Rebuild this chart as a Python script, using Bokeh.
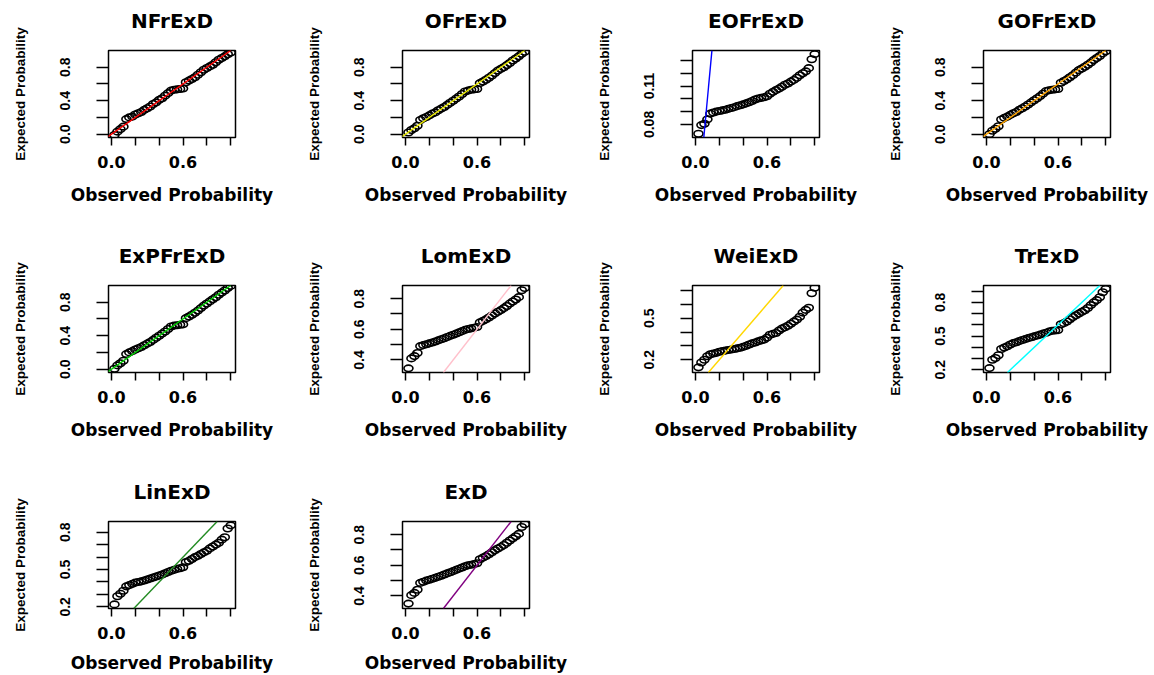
from bokeh.plotting import figure
from bokeh.models import Range1d, FixedTicker, Slope, ColumnDataSource, Title
from bokeh.layouts import column, row
from bokeh.embed import file_html
from bokeh.resources import INLINE

# ---------------- data ----------------
obs_prob = [0.025, 0.05, 0.075, 0.1, 0.125, 0.15, 0.175, 0.2, 0.225, 0.25,
            0.275, 0.3, 0.325, 0.35, 0.375, 0.4, 0.425, 0.45, 0.475, 0.5,
            0.525, 0.55, 0.575, 0.6, 0.625, 0.65, 0.675, 0.7, 0.725, 0.75,
            0.775, 0.8, 0.825, 0.85, 0.875, 0.9, 0.925, 0.95, 0.975, 1.0]

NFrExD = [-0.01, 0.03, 0.06, 0.09, 0.18, 0.20, 0.21, 0.235, 0.25, 0.265,
          0.29, 0.31, 0.33, 0.36, 0.38, 0.41, 0.43, 0.46, 0.49, 0.52,
          0.53, 0.535, 0.54, 0.545, 0.62, 0.64, 0.66, 0.68, 0.71, 0.74,
          0.77, 0.79, 0.81, 0.83, 0.86, 0.89, 0.91, 0.93, 0.955, 0.975]
OFrExD = [0.02, 0.05, 0.07, 0.10, 0.17, 0.19, 0.205, 0.225, 0.245, 0.26,
          0.285, 0.305, 0.325, 0.35, 0.375, 0.40, 0.425, 0.45, 0.48, 0.51,
          0.52, 0.53, 0.535, 0.54, 0.61, 0.63, 0.65, 0.675, 0.70, 0.73,
          0.76, 0.78, 0.80, 0.825, 0.85, 0.88, 0.905, 0.93, 0.96, 0.985]
EOFrExD = [0.0727, 0.0795, 0.0805, 0.0840, 0.0885, 0.0893, 0.0900, 0.0905, 0.0910, 0.0915,
           0.0922, 0.0928, 0.0935, 0.0943, 0.0950, 0.0957, 0.0965, 0.0973, 0.0983, 0.0995,
           0.1003, 0.1008, 0.1013, 0.1020, 0.1040, 0.1055, 0.1068, 0.1080, 0.1095, 0.1110,
           0.1120, 0.1135, 0.1148, 0.1165, 0.1185, 0.1200, 0.1215, 0.1240, 0.1310, 0.1350]
GOFrExD = [0.0, 0.04, 0.065, 0.095, 0.175, 0.195, 0.21, 0.23, 0.25, 0.265,
           0.29, 0.31, 0.33, 0.355, 0.38, 0.405, 0.43, 0.455, 0.485, 0.515,
           0.525, 0.53, 0.535, 0.54, 0.615, 0.635, 0.655, 0.68, 0.705, 0.735,
           0.765, 0.785, 0.805, 0.83, 0.855, 0.885, 0.91, 0.935, 0.965, 0.99]
ExPFrExD = [0.005, 0.045, 0.07, 0.10, 0.18, 0.2, 0.215, 0.235, 0.25, 0.265,
            0.285, 0.305, 0.325, 0.35, 0.375, 0.40, 0.425, 0.45, 0.48, 0.51,
            0.52, 0.525, 0.53, 0.535, 0.61, 0.63, 0.65, 0.675, 0.70, 0.73,
            0.76, 0.785, 0.81, 0.835, 0.86, 0.89, 0.915, 0.94, 0.97, 0.995]
LomExD = [0.345, 0.41, 0.425, 0.445, 0.49, 0.497, 0.502, 0.508, 0.514, 0.52,
          0.528, 0.535, 0.542, 0.55, 0.557, 0.564, 0.572, 0.58, 0.588, 0.596,
          0.602, 0.606, 0.61, 0.615, 0.645, 0.655, 0.665, 0.677, 0.69, 0.703,
          0.715, 0.725, 0.738, 0.752, 0.768, 0.782, 0.795, 0.81, 0.855, 0.87]
WeiExD = [0.145, 0.18, 0.20, 0.225, 0.24, 0.245, 0.25, 0.258, 0.262, 0.266,
          0.27, 0.274, 0.278, 0.282, 0.287, 0.293, 0.30, 0.31, 0.318, 0.325,
          0.333, 0.34, 0.345, 0.36, 0.38, 0.387, 0.393, 0.41, 0.425, 0.435,
          0.445, 0.46, 0.475, 0.49, 0.51, 0.54, 0.56, 0.575, 0.68, 0.72]
TrExD = [0.215, 0.29, 0.305, 0.33, 0.385, 0.398, 0.41, 0.425, 0.437, 0.445,
         0.455, 0.465, 0.473, 0.482, 0.49, 0.497, 0.505, 0.513, 0.522, 0.53,
         0.54, 0.548, 0.55, 0.553, 0.605, 0.615, 0.63, 0.65, 0.67, 0.685,
         0.70, 0.715, 0.73, 0.75, 0.775, 0.80, 0.82, 0.845, 0.89, 0.92]
LinExD = [0.22, 0.285, 0.305, 0.33, 0.365, 0.375, 0.385, 0.395, 0.40, 0.405,
          0.412, 0.42, 0.428, 0.436, 0.444, 0.452, 0.46, 0.47, 0.48, 0.49,
          0.497, 0.505, 0.51, 0.518, 0.56, 0.57, 0.585, 0.60, 0.61, 0.625,
          0.638, 0.65, 0.67, 0.685, 0.70, 0.715, 0.74, 0.76, 0.83, 0.855]
ExD = [0.35, 0.405, 0.42, 0.44, 0.485, 0.493, 0.50, 0.506, 0.512, 0.518,
       0.525, 0.532, 0.54, 0.547, 0.555, 0.562, 0.57, 0.578, 0.586, 0.594,
       0.60, 0.604, 0.608, 0.613, 0.64, 0.65, 0.66, 0.672, 0.685, 0.698,
       0.71, 0.72, 0.733, 0.747, 0.762, 0.776, 0.79, 0.805, 0.85, 0.868]

x_ticks = [0.0, 0.2, 0.4, 0.6, 0.8, 1.0]
x_tick_labels = ["0.0", "", "", "0.6", "", ""]

unit_ticks = [0.0, 0.2, 0.4, 0.6, 0.8]
unit_labels = ["0.0", "", "0.4", "", "0.8"]
eof_ticks = [0.08, 0.09, 0.10, 0.11, 0.12, 0.13]
eof_labels = ["0.08", "", "", "0.11", "", ""]
lom_ticks = [0.4, 0.5, 0.6, 0.7, 0.8]
lom_labels = ["0.4", "", "0.6", "", "0.8"]
wei_ticks = [0.2, 0.3, 0.4, 0.5, 0.6, 0.7]
wei_labels = ["0.2", "", "", "0.5", "", ""]
tr_ticks = [0.2, 0.3, 0.4, 0.5, 0.6, 0.7, 0.8, 0.9]
tr_labels = ["0.2", "", "", "0.5", "", "", "0.8", ""]
lin_ticks = [0.2, 0.3, 0.4, 0.5, 0.6, 0.7, 0.8]
lin_labels = ["0.2", "", "", "0.5", "", "", "0.8"]

panels = [
    ("NFrExD", NFrExD, "red", (-0.04, 1.0), unit_ticks, unit_labels),
    ("OFrExD", OFrExD, "#E8E800", (-0.04, 1.0), unit_ticks, unit_labels),
    ("EOFrExD", EOFrExD, "blue", (0.0698, 0.1378), eof_ticks, eof_labels),
    ("GOFrExD", GOFrExD, "orange", (-0.04, 1.0), unit_ticks, unit_labels),
    ("ExPFrExD", ExPFrExD, "#00CC00", (-0.04, 1.0), unit_ticks, unit_labels),
    ("LomExD", LomExD, "pink", (0.318, 0.886), lom_ticks, lom_labels),
    ("WeiExD", WeiExD, "gold", (0.108, 0.736), wei_ticks, wei_labels),
    ("TrExD", TrExD, "cyan", (0.176, 0.95), tr_ticks, tr_labels),
    ("LinExD", LinExD, "forestgreen", (0.187, 0.886), lin_ticks, lin_labels),
    ("ExD", ExD, "purple", (0.318, 0.886), lom_ticks, lom_labels),
]

# ---------------- layout ----------------
col_widths = [291, 291, 291, 281]
col_left = [108, 111, 110, 110]
row_heights = [235, 235, 205]
row_top = [50, 50, 51]
FW, FH = 127, 87

figs = []
for i, (name, yvals, color, yr, yt, yl) in enumerate(panels):
    r, c = divmod(i, 4)
    w, h = col_widths[c], row_heights[r]
    p = figure(width=w, height=h, output_backend="svg", toolbar_location=None,
               x_range=Range1d(-0.025, 1.04), y_range=Range1d(*yr),
               min_border_left=col_left[c], min_border_right=w - col_left[c] - FW,
               min_border_top=row_top[r], min_border_bottom=h - row_top[r] - FH,
               background_fill_color="white", border_fill_color="white",
               title=None)
    p.grid.visible = False
    p.outline_line_color = "black"
    p.outline_line_width = 1.5

    # spacer nearest the frame, then the real title above it
    p.add_layout(Title(text=" ", text_font_size="10px", standoff=0), "above")
    p.add_layout(Title(text=name, align="center", text_font="DejaVu Sans",
                       text_font_style="bold", text_font_size="20px",
                       text_color="black"), "above")

    src = ColumnDataSource(dict(x=obs_prob, y=yvals))
    p.ellipse(x="x", y="y", width=9, height=6.5, width_units="screen",
              height_units="screen", fill_color=None, line_color="black",
              line_width=1.6, source=src)
    p.add_layout(Slope(gradient=1, y_intercept=0, line_color=color, line_width=1.4))

    xa = p.xaxis[0]
    xa.ticker = FixedTicker(ticks=x_ticks)
    xa.major_label_overrides = dict(zip(x_ticks, x_tick_labels))
    xa.axis_line_color = None
    xa.major_tick_in = 0
    xa.major_tick_out = 8
    xa.major_tick_line_width = 1.5
    xa.minor_tick_line_color = None
    xa.major_label_text_font = "DejaVu Sans"
    xa.major_label_text_font_style = "bold"
    xa.major_label_text_font_size = "16px"
    xa.major_label_text_color = "black"
    xa.major_label_standoff = 10
    xa.axis_label = "Observed Probability"
    xa.axis_label_text_font = "DejaVu Sans"
    xa.axis_label_text_font_style = "bold"
    xa.axis_label_text_font_size = "17px"
    xa.axis_label_text_color = "black"
    xa.axis_label_standoff = 14 if r < 2 else 11

    ya = p.yaxis[0]
    ya.ticker = FixedTicker(ticks=yt)
    ya.major_label_overrides = dict(zip(yt, yl))
    ya.axis_line_color = None
    ya.major_tick_in = 0
    ya.major_tick_out = 12
    ya.major_tick_line_width = 1.5
    ya.minor_tick_line_color = None
    ya.major_label_orientation = "parallel"
    ya.major_label_text_font = "Liberation Sans"
    ya.major_label_text_font_style = "bold"
    ya.major_label_text_font_size = "14px"
    ya.major_label_text_color = "black"
    ya.major_label_standoff = 26
    ya.axis_label = "Expected Probability"
    ya.axis_label_text_font = "Liberation Sans"
    ya.axis_label_text_font_style = "bold"
    ya.axis_label_text_font_size = "13.5px"
    ya.axis_label_text_color = "black"
    ya.axis_label_standoff = 30
    figs.append(p)

layout = column(row(*figs[0:4]), row(*figs[4:8]), row(*figs[8:10]))
open("out.html", "w").write(file_html(layout, INLINE))
